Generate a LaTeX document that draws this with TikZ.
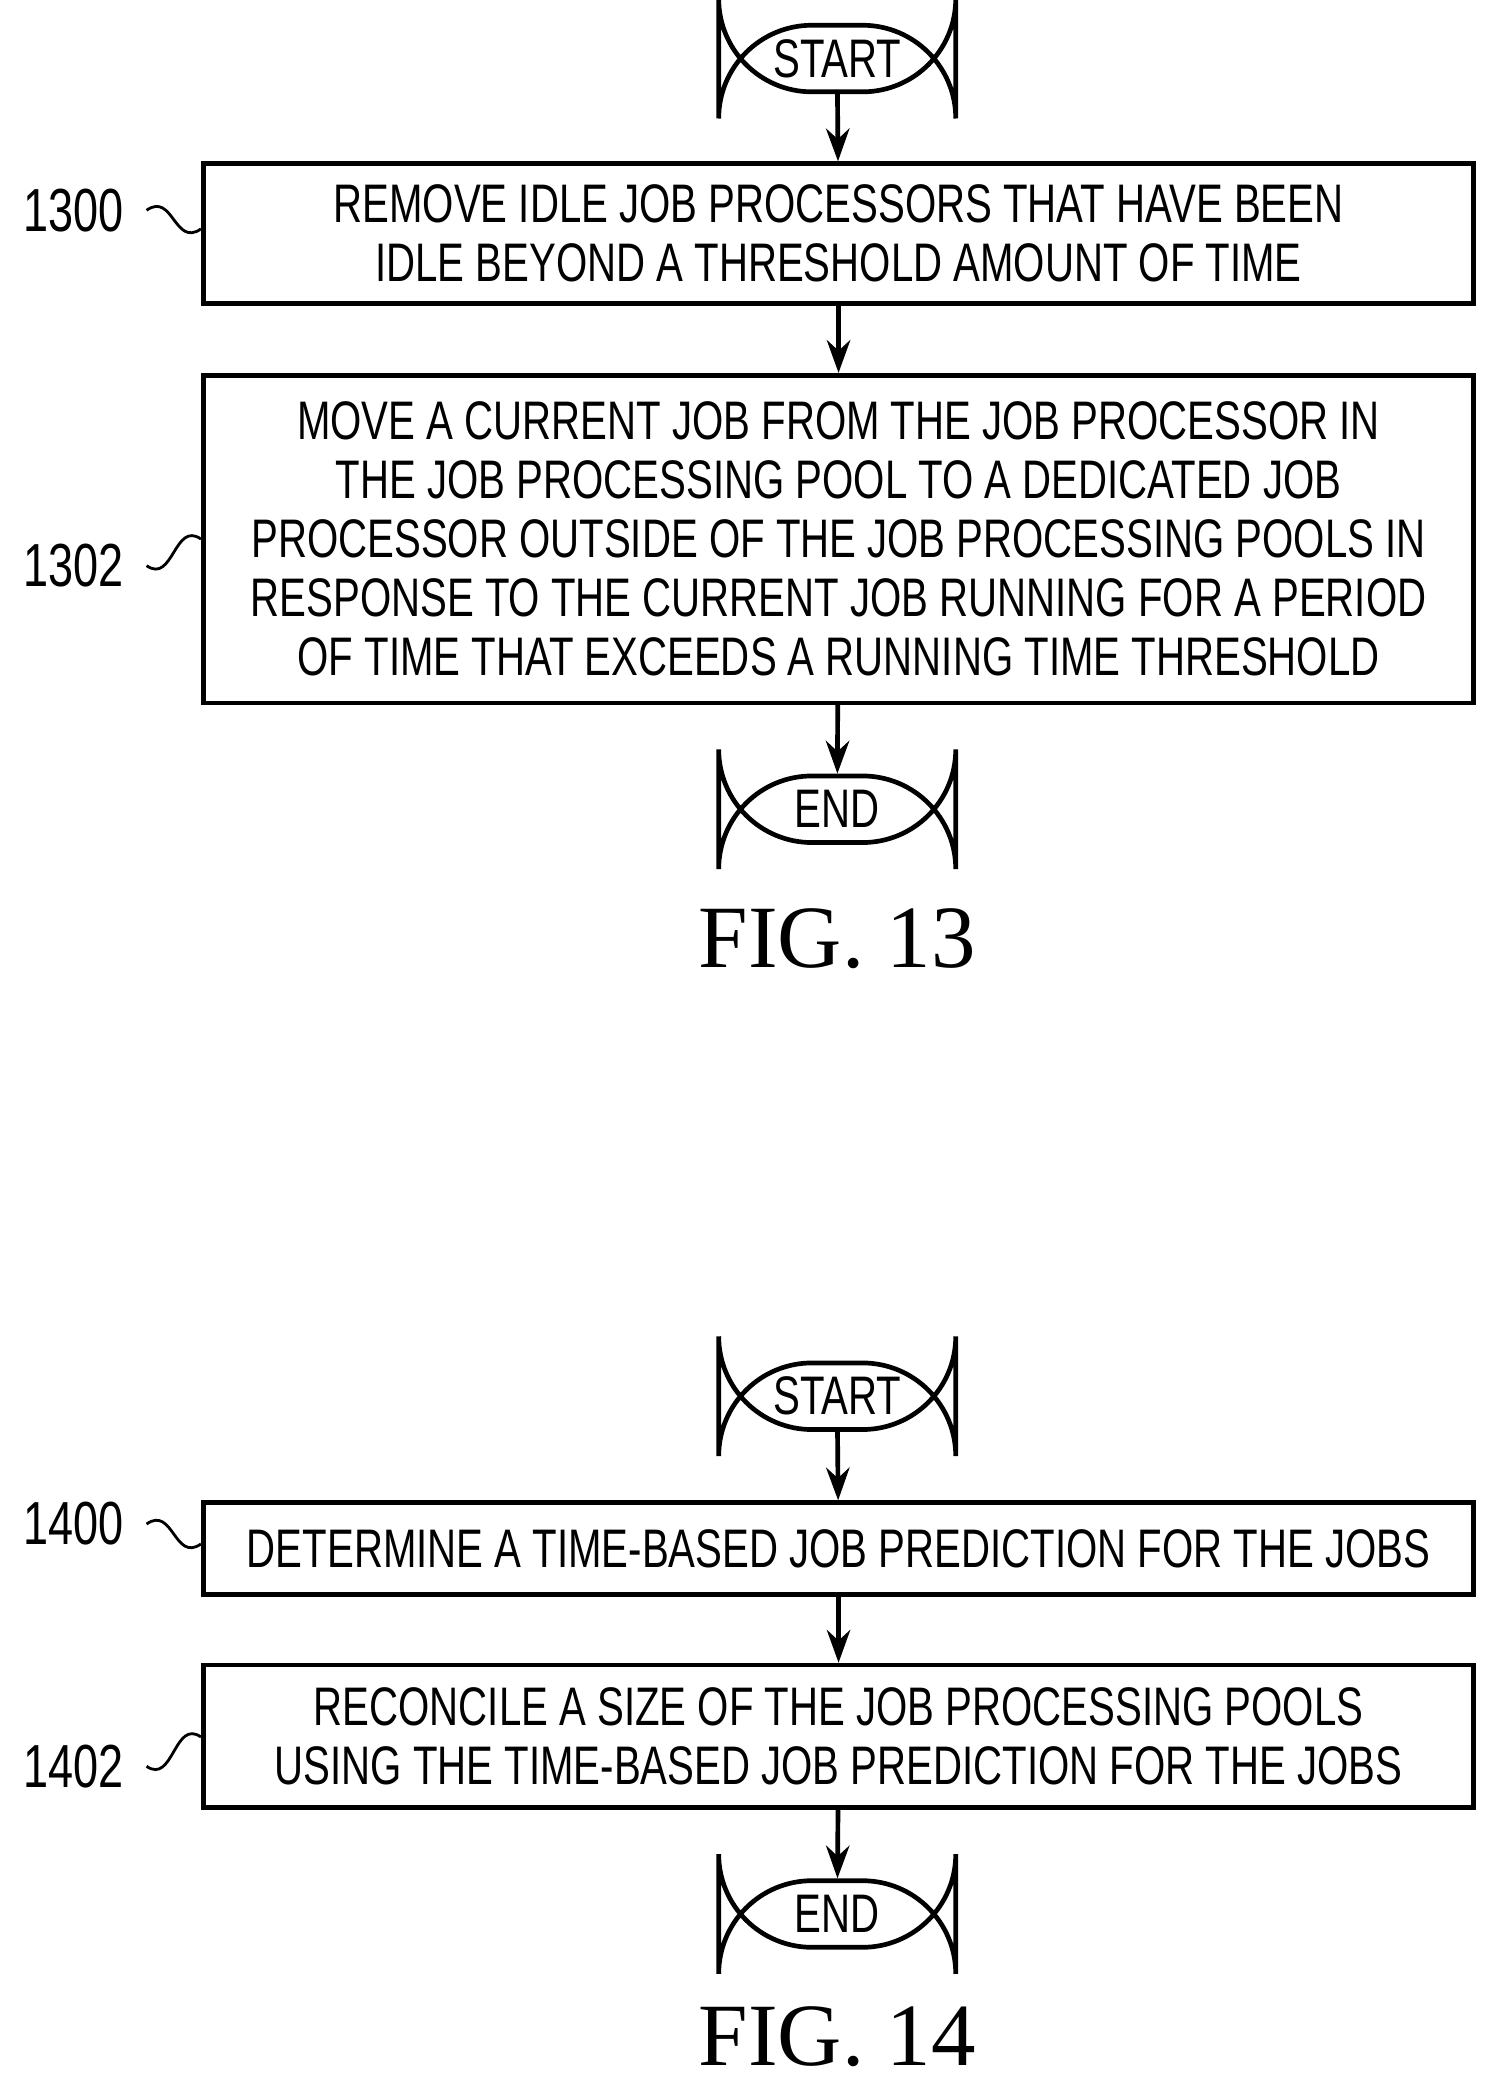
\documentclass[tikz,border=0pt]{standalone}
\usepackage{fontspec}
\setmainfont{Liberation Serif}
\newfontfamily\boxfont{Liberation Sans}[FakeStretch=0.74]
\usetikzlibrary{arrows.meta,positioning}
\begin{document}
\begin{tikzpicture}[x=0.01cm,y=-0.01cm,line width=1pt,>={Stealth[length=7pt,width=5pt]},
every node/.style={font=\boxfont\fontsize{11.6}{12.6}\selectfont},
term/.style={draw,rounded corners=7mm,minimum width=1.78cm,minimum height=0.5cm,inner sep=0pt},
proc/.style={draw,minimum width=9.54cm,align=center,inner sep=0pt},
ref/.style={font=\boxfont\fontsize{13}{14}\selectfont},
fig/.style={font=\fontsize{19}{20}\selectfont}]
\useasboundingbox (0,0) rectangle (1130,1577);
% FIG. 13
\node[term] (s13) at (629,44) {START};
\node[proc,minimum height=1.05cm] (b1300) at (630,175.5) {REMOVE IDLE JOB PROCESSORS THAT HAVE BEEN\\IDLE BEYOND A THRESHOLD AMOUNT OF TIME};
\node[proc,minimum height=2.46cm] (b1302) at (630,405) {MOVE A CURRENT JOB FROM THE JOB PROCESSOR IN\\THE JOB PROCESSING POOL TO A DEDICATED JOB\\PROCESSOR OUTSIDE OF THE JOB PROCESSING POOLS IN\\RESPONSE TO THE CURRENT JOB RUNNING FOR A PERIOD\\OF TIME THAT EXCEEDS A RUNNING TIME THRESHOLD};
\node[term] (e13) at (629,608) {END};
\node[fig] (f13) at (629,705) {FIG. 13};
\node[ref] (r1300) at (55,158) {1300};
\node[ref] (r1302) at (55,425) {1302};
\draw[->] (s13) -- (b1300);
\draw[->] (b1300) -- (b1302);
\draw[->] (b1302) -- (e13);
\draw[line width=0.6pt] (r1300.east) ++(4,0) .. controls +(20,-14) and +(-20,14) .. (b1300.west|-0,172);
\draw[line width=0.6pt] (r1302.east) ++(4,0) .. controls +(20,14) and +(-20,-14) .. (b1302.west|-0,405);
% FIG. 14
\node[term] (s14) at (629,1049) {START};
\node[proc,minimum height=0.69cm] (b1400) at (630,1163.5) {DETERMINE A TIME-BASED JOB PREDICTION FOR THE JOBS};
\node[proc,minimum height=1.07cm] (b1402) at (630,1304.5) {RECONCILE A SIZE OF THE JOB PROCESSING POOLS\\USING THE TIME-BASED JOB PREDICTION FOR THE JOBS};
\node[term] (e14) at (629,1438) {END};
\node[fig] (f14) at (629,1530) {FIG. 14};
\node[ref] (r1400) at (55,1145) {1400};
\node[ref] (r1402) at (55,1327) {1402};
\draw[->] (s14) -- (b1400);
\draw[->] (b1400) -- (b1402);
\draw[->] (b1402) -- (e14);
\draw[line width=0.6pt] (r1400.east) ++(4,0) .. controls +(20,-14) and +(-20,14) .. (b1400.west|-0,1160);
\draw[line width=0.6pt] (r1402.east) ++(4,0) .. controls +(20,14) and +(-20,-14) .. (b1402.west|-0,1305);
\end{tikzpicture}
\end{document}
